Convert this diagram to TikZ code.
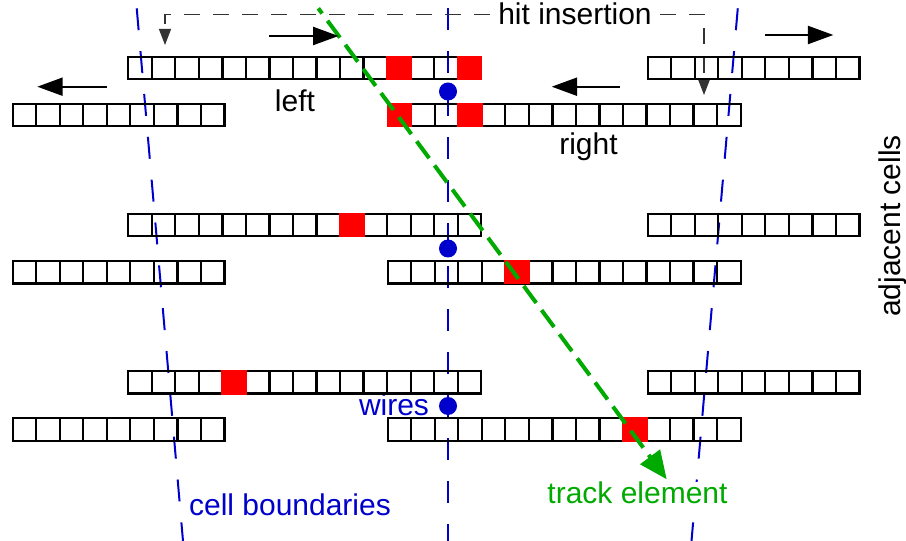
\documentclass[tikz,border=0pt]{standalone}
\usepackage{fontspec}
\setmainfont{Liberation Sans}
\usetikzlibrary{arrows.meta}

\definecolor{wireblue}{RGB}{0,0,204}
\definecolor{trackgreen}{RGB}{0,170,0}
\definecolor{hitred}{RGB}{255,0,0}

% cell pitch of a readout strip
\def\cellw{23.53}
\def\cellh{22.5}
% a row of #3 cells whose top-left corner is (#1,#2)
\newcommand{\cellstrip}[3]{%
  \foreach \k in {1,...,#3}{%
    \draw[cellline] ({#1+(\k-1)*\cellw},#2) rectangle ++(\cellw,\cellh);}}
% a hit cell: index #3 of the strip starting at (#1,#2)
\newcommand{\hitcell}[3]{%
  \fill[hitred] ({#1+#3*\cellw-1},{#2-1}) rectangle ++({\cellw+2},{\cellh+2});}

\begin{document}
\begin{tikzpicture}[x=0.75pt,y=-0.75pt,
  every node/.style={font=\fontsize{22.5}{27}\selectfont},
  cellline/.style={black,line width=1.7pt},
  bound/.style={wireblue,line width=1.5pt,dash pattern=on 16.5pt off 15.75pt,dash phase=26pt},
  track/.style={trackgreen,line width=3pt,dash pattern=on 15.75pt off 6.75pt,dash phase=10.9pt,
                -{Triangle[length=21pt,width=18pt]}},
  dirarrow/.style={black,line width=1.5pt,-{Triangle[length=19pt,width=13.5pt]}},
  hitline/.style={black!80,line width=0.8pt,dash pattern=on 12pt off 9.75pt,
                  -{Triangle[length=12pt,width=9pt]}},
  wiredot/.style={circle,fill=wireblue,minimum size=13.5pt,inner sep=0pt},
  lbl/.style={anchor=base,inner sep=0pt}]

\useasboundingbox (0,0) rectangle (906,541);

% cell boundaries
\coordinate (lbTop) at (136,0);   \coordinate (lbBot) at (183,541);
\coordinate (mbTop) at (448,0);   \coordinate (mbBot) at (448,541);
\coordinate (rbTop) at (738.5,0); \coordinate (rbBot) at (691.5,541);
\draw[bound] (lbTop) -- (lbBot);
\draw[bound] (mbTop) -- (mbBot);
\draw[bound] (rbTop) -- (rbBot);

% labels
\node[lbl,inner xsep=6pt] (hit) at (575,25) {hit insertion};
\node[lbl] (leftlbl) at (295,112) {left};
\node[lbl] (rightlbl) at (588.5,155) {right};
\node[lbl,rotate=90] (adjlbl) at (900,226) {adjacent cells};
\node[lbl,text=wireblue] (wirelbl) at (394,415) {wires};
\node[lbl,text=wireblue,fill=white] (boundlbl) at (290,515) {cell boundaries};
\node[lbl,text=trackgreen,fill=white] (tracklbl) at (637.5,503.3) {track element};

% hit insertion pointers
\coordinate (insL) at (165,45);
\coordinate (insR) at (704,95);
\draw[hitline] (hit.west) -| (insL);
\draw[hitline] (hit.east) -| (insR);

% strips: three layer pairs
\cellstrip{128.3}{56.7}{15}  \cellstrip{647.7}{56.7}{9}
\cellstrip{12.7}{103.7}{9}   \cellstrip{387.7}{103.7}{15}
\cellstrip{128.3}{213.7}{15} \cellstrip{647.7}{213.7}{9}
\cellstrip{12.7}{261}{9}     \cellstrip{387.7}{261}{15}
\cellstrip{128.3}{371}{15}   \cellstrip{647.7}{371}{9}
\cellstrip{12.7}{418.3}{9}   \cellstrip{387.7}{418.3}{15}

% hit cells
\hitcell{128.3}{56.7}{11} \hitcell{128.3}{56.7}{14}
\hitcell{387.7}{103.7}{0} \hitcell{387.7}{103.7}{3}
\hitcell{128.3}{213.7}{9}
\hitcell{387.7}{261}{5}
\hitcell{128.3}{371}{4}
\hitcell{387.7}{418.3}{10}

% wires
\node[wiredot] (wireA) at (448,91.5) {};
\node[wiredot] (wireB) at (448,248.5) {};
\node[wiredot] (wireC) at (448,406) {};

% track element
\coordinate (trkStart) at (318.3,8.3);
\coordinate (trkEnd) at (666.7,479.3);
\draw[track] (trkStart) -- (trkEnd);

% readout directions
\coordinate (dA0) at (269,36);    \coordinate (dA1) at (338.5,36);
\coordinate (dB0) at (106.7,86.7); \coordinate (dB1) at (37.3,86.7);
\coordinate (dC0) at (620,86.7);  \coordinate (dC1) at (551.7,86.7);
\coordinate (dD0) at (765,35);    \coordinate (dD1) at (833.3,35);
\draw[dirarrow] (dA0) -- (dA1);
\draw[dirarrow] (dB0) -- (dB1);
\draw[dirarrow] (dC0) -- (dC1);
\draw[dirarrow] (dD0) -- (dD1);
\end{tikzpicture}
\end{document}
